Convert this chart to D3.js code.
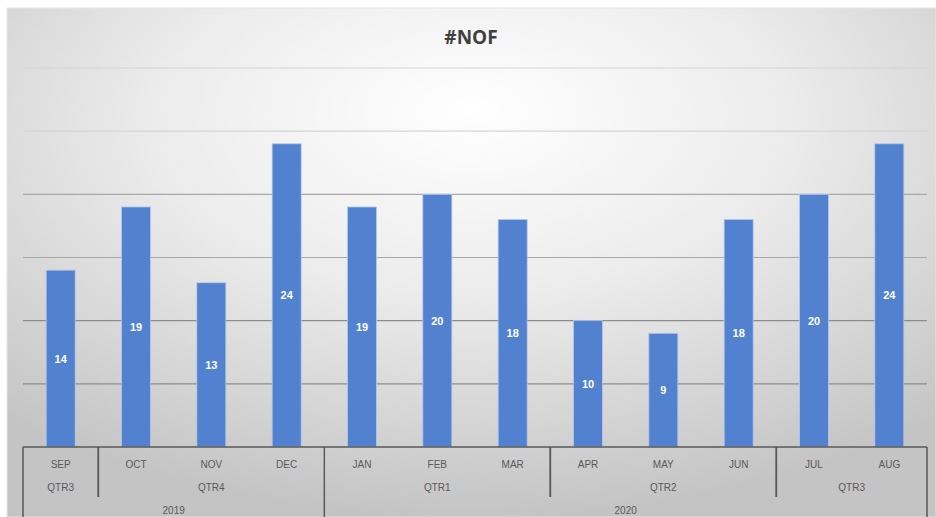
<!DOCTYPE html>
<html><head><meta charset="utf-8">
<script src="https://cdn.jsdelivr.net/npm/d3@7"></script>
<style>body{margin:0;background:#fff;}svg{display:block;}</style>
</head><body>
<script>
const months = ["SEP","OCT","NOV","DEC","JAN","FEB","MAR","APR","MAY","JUN","JUL","AUG"];
const values = [14,19,13,24,19,20,18,10,9,18,20,24];
const quarters = [{label:"QTR3",start:0,end:1},{label:"QTR4",start:1,end:4},{label:"QTR1",start:4,end:7},{label:"QTR2",start:7,end:10},{label:"QTR3",start:10,end:12}];
const years = [{label:"2019",start:0,end:4},{label:"2020",start:4,end:12}];
const yTicks = [0,5,10,15,20,25,30];
const title = "#NOF";

(function(){
const W=936,H=517;
const svg=d3.select("body").append("svg").attr("width",W).attr("height",H);
const defs=svg.append("defs");
const rg=defs.append("radialGradient").attr("id","bg").attr("cx","50%").attr("cy","25%").attr("r","75%").attr("fx","50%").attr("fy","20%");
rg.append("stop").attr("offset","0%").attr("stop-color","#ffffff");
rg.append("stop").attr("offset","45%").attr("stop-color","#ececec");
rg.append("stop").attr("offset","100%").attr("stop-color","#c4c4c4");
svg.append("rect").attr("x",7).attr("y",8).attr("width",W-7).attr("height",H-8).attr("fill","url(#bg)").attr("stroke","#e6e6e6");

const pl=23,pr=927,pt=68,base=447;
const x=d3.scaleBand().domain(d3.range(months.length)).range([pl,pr]).paddingInner(0.615).paddingOuter(0.3075);
const y=d3.scaleLinear().domain([0,30]).range([base,pt]);
const step=x.step();
const bx=i=>pl+i*step;

svg.append("g").selectAll("line").data(yTicks.filter(d=>d>0)).join("line")
  .attr("x1",pl).attr("x2",pr).attr("y1",d=>y(d)).attr("y2",d=>y(d))
  .attr("stroke",d=>d<=10?"#8c8c8c":(d>=25?"#d4d4d4":"#a8a8a8")).attr("stroke-width",1.2);

svg.append("text").attr("x",W/2+3).attr("y",44).attr("text-anchor","middle")
  .attr("font-family","'Open Sans',sans-serif").attr("font-weight","bold").attr("font-size",19)
  .attr("fill","#404040").text(title);

svg.append("g").selectAll("rect").data(values).join("rect")
  .attr("x",(d,i)=>x(i)).attr("width",x.bandwidth())
  .attr("y",d=>y(d)).attr("height",d=>base-y(d))
  .attr("fill","#5282cf").attr("stroke","#b4c8ea").attr("stroke-width",0.8);

svg.append("g").selectAll("text").data(values).join("text")
  .attr("x",(d,i)=>x(i)+x.bandwidth()/2).attr("y",d=>(y(d)+base)/2+4)
  .attr("text-anchor","middle").attr("fill","#ffffff").attr("font-weight","bold")
  .attr("font-family","'Liberation Sans',Arial,sans-serif").attr("font-size",11).text(d=>d);

const ax=svg.append("g").attr("stroke","#595959").attr("stroke-width",1.5);
ax.append("line").attr("x1",pl).attr("x2",pr).attr("y1",base).attr("y2",base);
const yb=new Set();years.forEach(d=>{yb.add(d.start);yb.add(d.end);});
yb.forEach(b=>ax.append("line").attr("x1",bx(b)).attr("x2",bx(b)).attr("y1",base).attr("y2",H));
quarters.forEach(q=>[q.start,q.end].forEach(b=>{ if(!yb.has(b)) ax.append("line").attr("x1",bx(b)).attr("x2",bx(b)).attr("y1",base).attr("y2",497);}));

const tf="'Liberation Sans',Arial,sans-serif";
const lab=svg.append("g").attr("font-family",tf).attr("font-size",10).attr("fill","#595959").attr("text-anchor","middle");
lab.selectAll(".m").data(months).join("text").attr("class","m")
  .attr("x",(d,i)=>x(i)+x.bandwidth()/2).attr("y",468).text(d=>d);
lab.selectAll(".q").data(quarters).join("text").attr("class","q")
  .attr("x",d=>(bx(d.start)+bx(d.end))/2).attr("y",491).text(d=>d.label);
lab.selectAll(".yr").data(years).join("text").attr("class","yr")
  .attr("x",d=>(bx(d.start)+bx(d.end))/2).attr("y",514).text(d=>d.label);
})();
</script>
</body></html>
